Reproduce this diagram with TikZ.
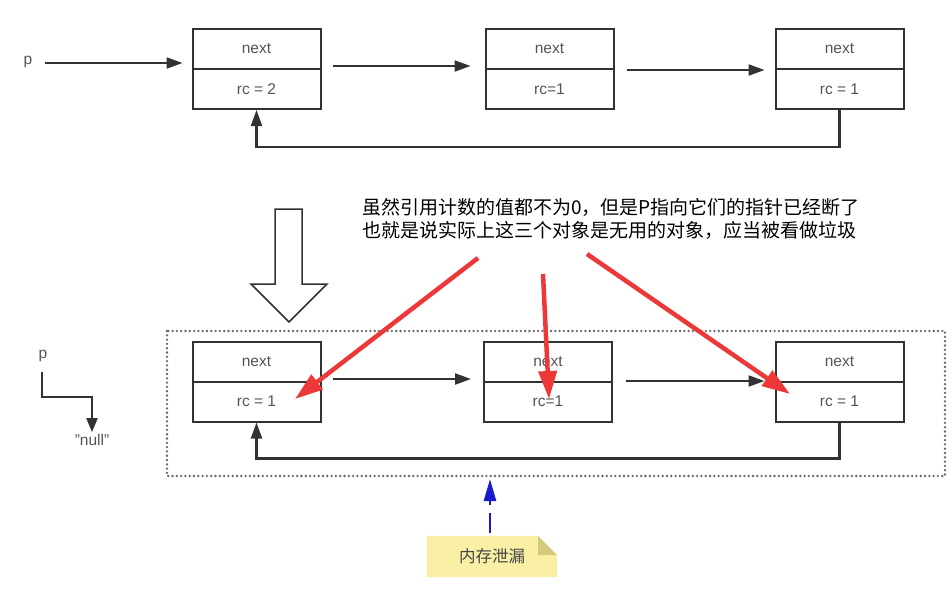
\documentclass[tikz,border=0pt]{standalone}
\usepackage{fontspec}
\setmainfont{Liberation Sans}
\newfontfamily\cjk{Noto Sans CJK SC}
\usetikzlibrary{arrows.meta,calc}
\definecolor{boxline}{RGB}{50,50,50}
\definecolor{txtgray}{RGB}{85,85,85}
\definecolor{redarr}{RGB}{236,56,56}
\definecolor{bluearr}{RGB}{25,25,205}
\definecolor{notefill}{RGB}{250,240,165}
\definecolor{notefold}{RGB}{212,202,125}
\definecolor{dotgray}{RGB}{100,100,100}
\tikzset{
  part/.style={draw=boxline, line width=2pt, minimum width=128pt, minimum height=40pt,
    inner sep=0pt, text=txtgray, font=\fontsize{15.5}{18}\selectfont},
  lbl/.style={text=txtgray, font=\fontsize{15.5}{18}\selectfont, inner sep=0pt},
  arr/.style={draw=boxline, line width=2.2pt, -{Triangle[length=16pt,width=11pt]}},
  redarrow/.style={draw=redarr, line width=4.5pt, -{Triangle[length=28pt,width=18pt]}},
}
\begin{document}
\begin{tikzpicture}[x=1pt,y=-1pt]
\useasboundingbox (0,0) rectangle (952,590);
% ---------- top row ----------
\node[part] (t1) at (256.5,49) {next};
\node[part] (b1) at (256.5,89) {rc = 2};
\node[part] (t2) at (549.5,49) {next};
\node[part] (b2) at (549.5,89) {rc=1};
\node[part] (t3) at (839.5,49) {next};
\node[part] (b3) at (839.5,89) {rc = 1};
\node[lbl] (p1) at (28,62) {p};
\draw[arr, shorten <=12pt, shorten >=9pt] ([yshift=-1pt]p1.east) -- ([yshift=-1pt]p1.east -| t1.west);
\draw[arr, shorten <=11pt, shorten >=14pt] ([yshift=4pt]t1.south east) -- ([yshift=4pt]t2.south west);
\draw[arr, shorten <=12pt, shorten >=10pt] (t2.south east) -- (t3.south west);
\draw[arr, shorten >=0pt] (b3.south) -- ++(0,37) -| (b1.south);
% ---------- hollow down arrow ----------
\draw[draw=boxline, line width=1.5pt, fill=white]
  (275,209) -- (302,209) -- (302,284) -- (327,284) -- (289,322) -- (251,284) -- (275,284) -- cycle;
% ---------- dotted frame ----------
\draw[dotgray, line width=2.6pt, line cap=round, dash pattern=on 0pt off 4.3pt] (167,331) rectangle (945,476);
% ---------- bottom row ----------
\node[part] (t4) at (256.5,362) {next};
\node[part] (b4) at (256.5,401.5) {rc = 1};
\node[part] (t5) at (548,362) {next};
\node[part] (b5) at (548,401.5) {rc=1};
\node[part] (t6) at (839.5,362) {next};
\node[part] (b6) at (839.5,401.5) {rc = 1};
\draw[arr, shorten <=11pt, shorten >=12pt] ([yshift=4pt]t4.south east) -- ([yshift=4pt]t5.south west);
\draw[arr, shorten <=13pt, shorten >=10pt] ([yshift=2pt]t5.south east) -- ([yshift=2pt]t6.south west);
\draw[arr] (b6.south) -- ++(0,36) -| (b4.south);
% ---------- p -> null ----------
\node[lbl] (p2) at (43,356) {p};
\node[lbl] (nul) at (92,440) {\symbol{34}null\symbol{34}};
\coordinate (pc) at (42,397);
\draw[arr, -{Triangle[length=14pt,width=11pt]}] (42,372) -- (pc) -| ([yshift=2pt]nul.north);
% ---------- message ----------
\node[font=\cjk\fontsize{19}{23}\selectfont, align=left, inner sep=0pt, anchor=north west] (msg) at (362,198)
  {虽然引用计数的值都不为0，但是P指向它们的指针已经断了\\也就是说实际上这三个对象是无用的对象，应当被看做垃圾};
\coordinate (r1) at (478,258);
\coordinate (r2) at (543,274);
\coordinate (r3) at (587,254);
\coordinate (e1) at (295,399);
\coordinate (e2) at (549,399);
\coordinate (e3) at (790,394);
\draw[redarrow] (r1) -- (e1);
\draw[redarrow] (r2) -- (e2);
\draw[redarrow] (r3) -- (e3);
% ---------- note ----------
\node[minimum width=130pt, minimum height=41pt, inner sep=0pt] (note) at (492,556.5) {};
\fill[notefill] (note.north west) -- (538,536) -- (note.north east |- 0,555) -- (note.south east) -- (note.south west) -- cycle;
\fill[notefold] (538,536) -- (538,555) -- (557,555) -- cycle;
\node[font=\cjk\fontsize{16.5}{20}\selectfont, text=txtgray!80!black] at (note.center) {内存泄漏};
\draw[bluearr, line width=2.5pt, dash pattern=on 20pt off 8pt, -{Triangle[length=22pt,width=12pt]}]
  ([xshift=-2pt,yshift=3pt]note.north) -- ([xshift=-2pt]note.north |- 0,479);
\end{tikzpicture}
\end{document}
